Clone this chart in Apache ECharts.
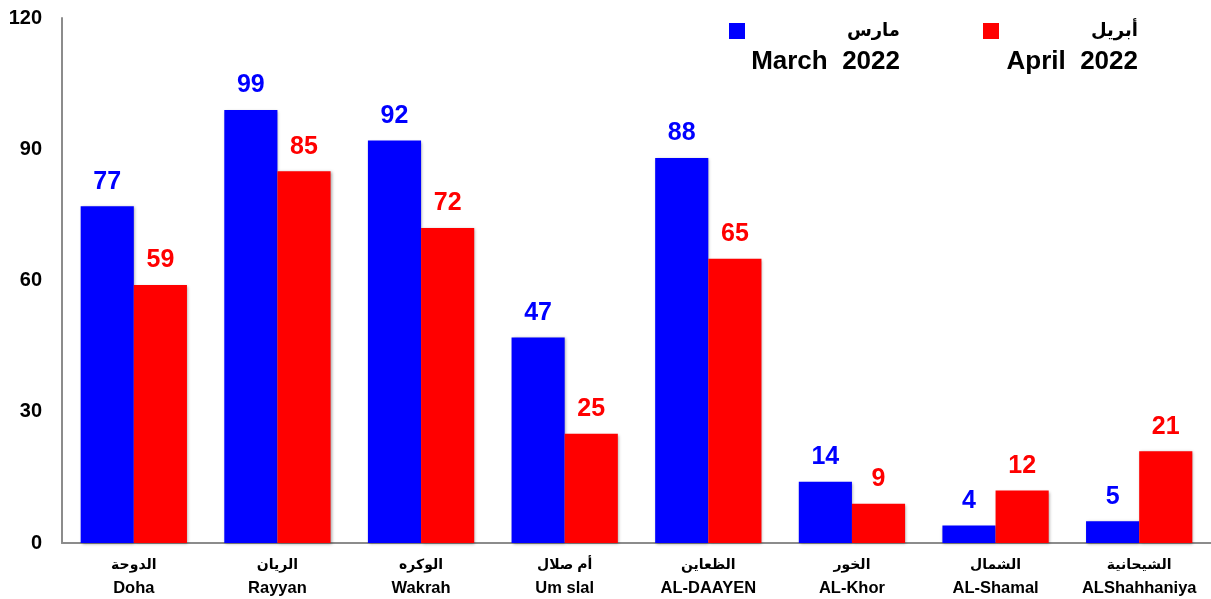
<!DOCTYPE html>
<html><head><meta charset="utf-8">
<script src="https://cdn.jsdelivr.net/npm/echarts@6/dist/echarts.min.js"></script>
<style>html,body{margin:0;padding:0;background:#fff}#c{width:1211px;height:599px}</style>
</head><body><div id="c"></div>
<script>
const categoriesAr = ['الدوحة','الريان','الوكره','أم صلال','الظعاين','الخور','الشمال','الشيحانية'];
const categoriesEn = ['Doha','Rayyan','Wakrah','Um slal','AL-DAAYEN','AL-Khor','AL-Shamal','ALShahhaniya'];
const march2022 = [77, 99, 92, 47, 88, 14, 4, 5];
const april2022 = [59, 85, 72, 25, 65, 9, 12, 21];
const yTicks = [0, 30, 60, 90, 120];

const FONT = '"Liberation Sans", Arial, "DejaVu Sans", sans-serif';
const chart = echarts.init(document.getElementById('c'), null, {renderer: 'canvas'});
const cats = categoriesEn.map((e, i) => categoriesAr[i] + '\n' + e);
const barShadow = {shadowBlur: 3, shadowColor: 'rgba(0,0,0,0.35)', shadowOffsetX: 1, shadowOffsetY: 1};
chart.setOption({
  animation: false,
  backgroundColor: '#fff',
  textStyle: {fontFamily: FONT},
  grid: {left: 62, right: 0, top: 18, bottom: 56, containLabel: false},
  xAxis: {
    type: 'category', data: cats,
    axisLine: {lineStyle: {color: '#8c8c8c', width: 2}},
    axisTick: {show: false},
    axisLabel: {
      margin: 11, interval: 0,
      formatter: v => { const p = v.split('\n'); return '{ar|' + p[0] + '}\n{en|' + p[1] + '}'; },
      rich: {
        ar: {fontSize: 14, fontWeight: 'bold', color: '#000', lineHeight: 22, fontFamily: FONT},
        en: {fontSize: 16.5, fontWeight: 'bold', color: '#000', lineHeight: 24, fontFamily: FONT}
      }
    }
  },
  yAxis: {
    type: 'value', min: yTicks[0], max: yTicks[yTicks.length - 1], interval: 30,
    axisLine: {show: true, lineStyle: {color: '#8c8c8c', width: 2}},
    axisTick: {show: false},
    splitLine: {show: false},
    axisLabel: {margin: 20, fontSize: 20, fontWeight: 'bold', color: '#000', fontFamily: FONT}
  },
  series: [
    {name: 'March 2022', type: 'bar', data: march2022, barGap: '0%', barCategoryGap: '26%',
     itemStyle: Object.assign({color: '#0000ff'}, barShadow),
     label: {show: true, position: 'top', distance: 12, fontSize: 25, fontWeight: 'bold', color: '#0000ff', fontFamily: FONT}},
    {name: 'April 2022', type: 'bar', data: april2022, barGap: '0%', barCategoryGap: '26%',
     itemStyle: Object.assign({color: '#ff0000'}, barShadow),
     label: {show: true, position: 'top', distance: 12, fontSize: 25, fontWeight: 'bold', color: '#ff0000', fontFamily: FONT}}
  ],
  graphic: [
    {type: 'rect', left: 729, top: 23, shape: {width: 16, height: 16}, style: {fill: '#0000ff'}},
    {type: 'text', right: 1211 - 900, top: 22, style: {text: 'مارس', font: 'bold 18px ' + FONT, fill: '#000'}},
    {type: 'text', right: 1211 - 900, top: 49, style: {text: 'March  2022', font: 'bold 26px ' + FONT, fill: '#000'}},
    {type: 'rect', left: 983, top: 23, shape: {width: 16, height: 16}, style: {fill: '#ff0000'}},
    {type: 'text', right: 1211 - 1138, top: 22, style: {text: 'أبريل', font: 'bold 18px ' + FONT, fill: '#000'}},
    {type: 'text', right: 1211 - 1138, top: 49, style: {text: 'April  2022', font: 'bold 26px ' + FONT, fill: '#000'}}
  ]
});
</script></body></html>
